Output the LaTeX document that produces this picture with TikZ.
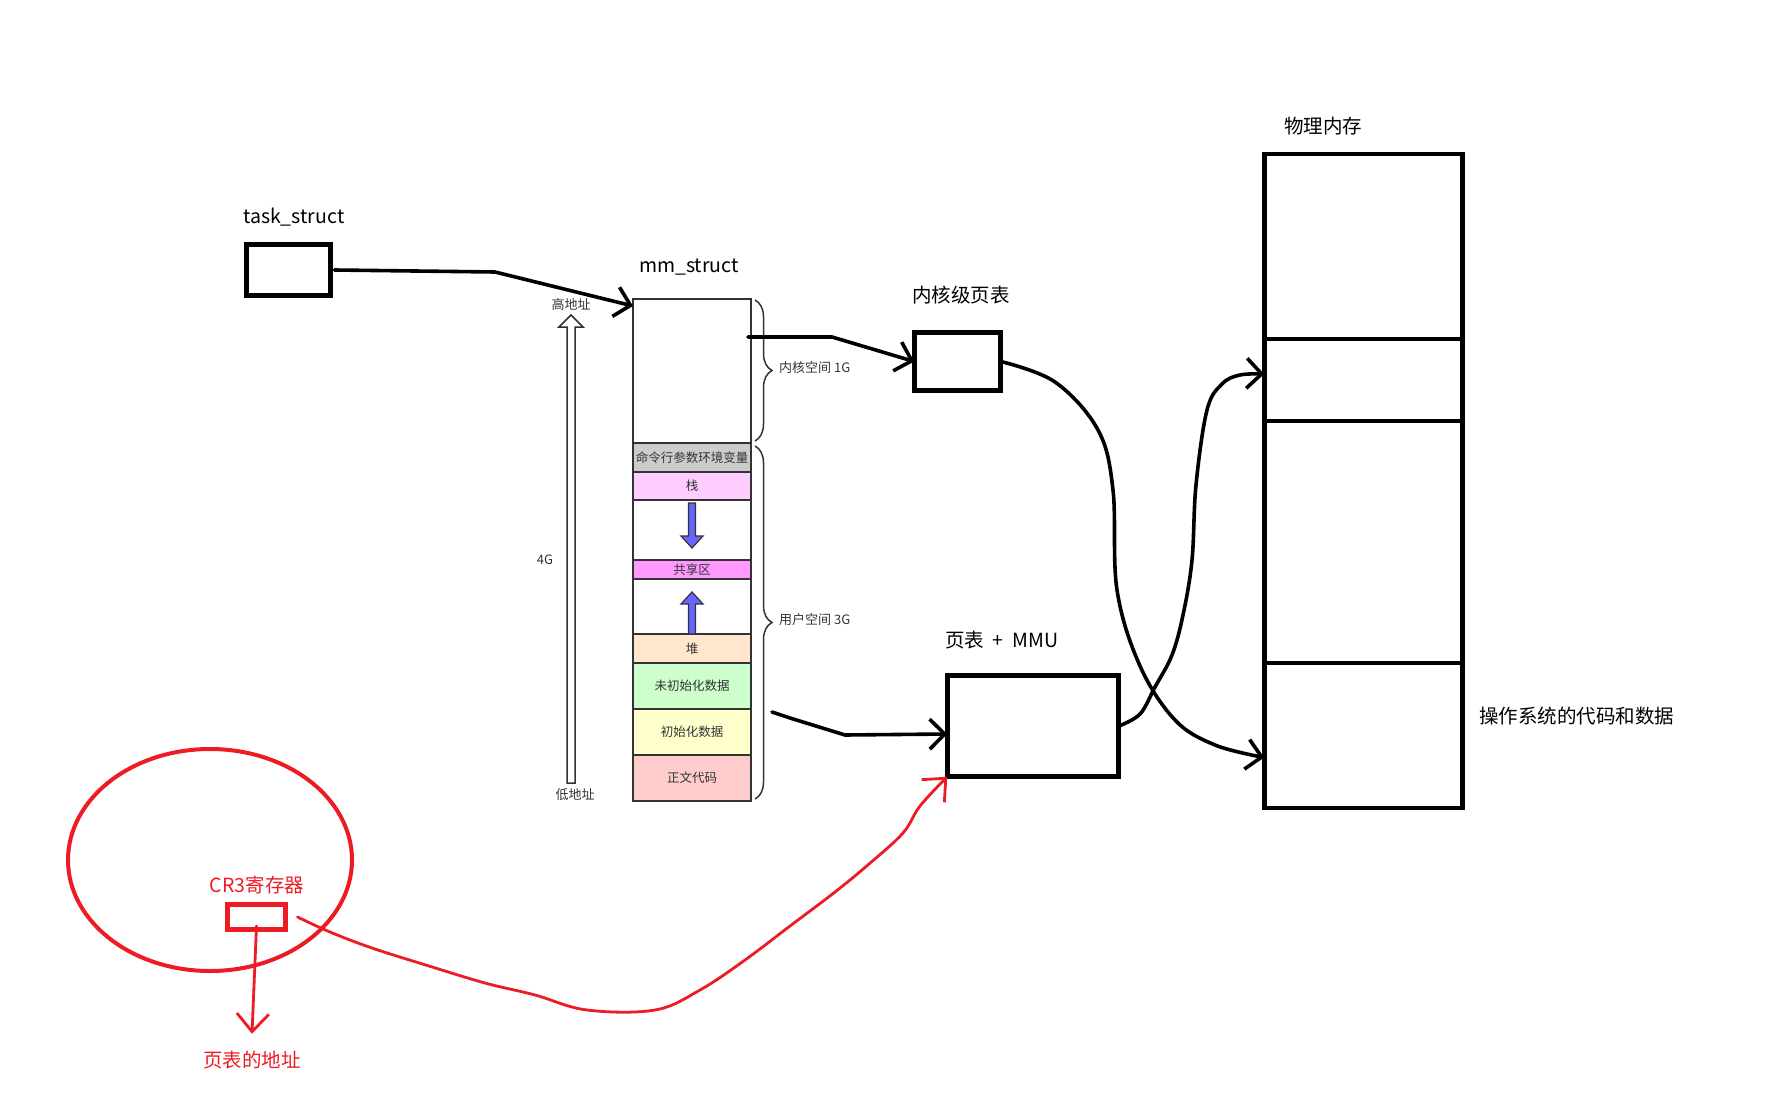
\documentclass[tikz,border=0pt]{standalone}
\usepackage{fontspec}
\setmainfont{Noto Sans CJK SC}
\usepackage{xcolor}
\usepackage{tikz}
\usetikzlibrary{arrows.meta,positioning,decorations.pathreplacing}
\definecolor{mspred}{HTML}{ED1C24}
\definecolor{cellline}{HTML}{333333}
\definecolor{cellgray}{HTML}{CCCCCC}
\definecolor{cellpink}{HTML}{FFCCFF}
\definecolor{cellmagenta}{HTML}{FF99FF}
\definecolor{cellpeach}{HTML}{FFE6CC}
\definecolor{cellgreen}{HTML}{CCFFCC}
\definecolor{cellyellow}{HTML}{FFFFCC}
\definecolor{cellrose}{HTML}{FFCCCC}
\definecolor{growblue}{HTML}{6666FF}

\begin{document}
\begin{tikzpicture}[x=1pt, y=-1pt,
  box/.style={draw, line width=4.8pt, inner sep=0pt, outer sep=0pt},
  cell/.style={draw=cellline, line width=1.5pt, minimum width=118pt, inner sep=0pt, outer sep=0pt, text=cellline, font=\fontsize{12.5}{14}\selectfont},
  tag/.style={inner sep=0pt, font=\fontsize{19.5}{22}\selectfont},
  memtxt/.style={inner sep=0pt, text=cellline, font=\fontsize{13}{15}\selectfont},
  inkarr/.style={line width=3.6pt, line cap=round, line join=round, -{Straight Barb[length=15pt, width=30pt]}},
  redarr/.style={draw=mspred, line width=2.8pt, line cap=round, line join=round, -{Straight Barb[length=18pt, width=32pt]}},
  memrange/.style={draw=cellline, line width=1.5pt, decorate, decoration={brace, amplitude=17pt}},
  growarr/.style={draw=cellline, line width=1.2pt, fill=growblue},
]
  \useasboundingbox (0,0) rectangle (1770,1094);

  % task_struct
  \node[box, minimum width=84pt, minimum height=51pt] (task) at (288.5,270) {};
  \node[tag, anchor=west] (tasktitle) at (243,217) {task\_struct};

  % mm_struct column
  \node[tag] (mmtitle) at (689,267) {mm\_struct};
  \node[cell, minimum height=144pt, anchor=north west] (kern) at (633,299) {};
  \node[cell, minimum height=29pt, fill=cellgray, below=0pt of kern] (args) {命令行参数环境变量};
  \node[cell, minimum height=28pt, fill=cellpink, below=0pt of args] (stack) {栈};
  \node[cell, minimum height=60pt, below=0pt of stack] (gapdown) {};
  \node[cell, minimum height=19pt, fill=cellmagenta, below=0pt of gapdown] (shared) {共享区};
  \node[cell, minimum height=55pt, below=0pt of shared] (gapup) {};
  \node[cell, minimum height=29pt, fill=cellpeach, below=0pt of gapup] (heap) {堆};
  \node[cell, minimum height=46pt, fill=cellgreen, below=0pt of heap] (bss) {未初始化数据};
  \node[cell, minimum height=46pt, fill=cellyellow, below=0pt of bss] (data) {初始化数据};
  \node[cell, minimum height=46pt, fill=cellrose, below=0pt of data] (code) {正文代码};

  \draw[growarr] (688.5,503) -- (695.5,503) -- (695.5,536) -- (703,536) -- (692,548) -- (681,536) -- (688.5,536) -- cycle;
  \draw[growarr] (688.5,634) -- (688.5,604) -- (681,604) -- (692,592) -- (703,604) -- (695.5,604) -- (695.5,634) -- cycle;

  % address arrow
  \draw[draw=cellline, line width=1.5pt, fill=white] (567,783) -- (567,327) -- (559,327) -- (571,315) -- (583,327) -- (575,327) -- (575,783) -- cycle;
  \node[memtxt] (hiaddr) at (571,305) {高地址};
  \node[memtxt] (loaddr) at (575,795) {低地址};
  \node[memtxt] (fourg) at (545,560) {4G};

  \draw[memrange] (755,300) -- (755,441);
  \node[memtxt, anchor=west] (kspace) at (779,368) {内核空间 1G};
  \draw[memrange] (755,446) -- (755,799);
  \node[memtxt, anchor=west] (uspace) at (779,620) {用户空间 3G};

  % page tables
  \node[box, minimum width=86.5pt, minimum height=58.5pt] (kpt) at (957.5,361.5) {};
  \node[tag, anchor=west] (kpttitle) at (912,295) {内核级页表};
  \node[box, minimum width=171.5pt, minimum height=101.5pt] (mmu) at (1033,726) {};
  \node[tag, anchor=west] (mmutitle) at (945,640) {页表\hspace{0.45em}+\hspace{0.45em}MMU};

  % physical memory
  \node[box, minimum width=198.5pt, minimum height=185pt, anchor=north] (phys1) at (1363.5,154) {};
  \node[box, minimum width=198.5pt, minimum height=82pt, below=0pt of phys1] (phys2) {};
  \node[box, minimum width=198.5pt, minimum height=242pt, below=0pt of phys2] (phys3) {};
  \node[box, minimum width=198.5pt, minimum height=145pt, below=0pt of phys3] (phys4) {};
  \node[tag] (phystitle) at (1323,126) {物理内存};
  \node[tag, anchor=west] (ostitle) at (1479,716) {操作系统的代码和数据};

  % CR3
  \draw[draw=mspred, line width=4pt] (210,860) ellipse [x radius=142pt, y radius=111pt];
  \node[box, draw=mspred, line width=5pt, minimum width=58pt, minimum height=25pt] (cr3) at (256.5,917) {};
  \node[tag, text=mspred] (cr3title) at (257,885) {CR3寄存器};
  \node[tag, text=mspred] (addr) at (252,1060) {页表的地址};

  \draw[inkarr] ([xshift=4pt]task.east) -- (495,272) -- ([yshift=-7pt]kern.north west);
  \draw[inkarr] ([xshift=-3pt,yshift=34pt]kern.east) -- (832,337) -- (kpt.west);
  \draw[inkarr] plot[smooth, tension=0.6] coordinates {(kpt.east) (1055,382) (1098,430) (1113,490) (1117,590) (1140,666) (1175,720) (1215,745) ([yshift=-22pt]phys4.west)};
  \draw[inkarr] plot[smooth, tension=0.6] coordinates {(mmu.east) (1140,714) (1155,687) (1172,655) (1183,615) (1192,560) (1196,485) (1207,410) (1222,384) (1240,375) ([yshift=6pt]phys2.west)};
  \draw[inkarr] ([xshift=21pt,yshift=20pt]data.east) -- (790,718) -- (845,735) -- ([yshift=-8pt]mmu.west);

  \draw[redarr] plot[smooth, tension=0.6] coordinates {([xshift=12pt]cr3.east) (330,932) (372,948) (429,966) (485,983) (535,995) (587,1010) (655,1010) (700,990) (745,960) (790,926) (835,892) (869,864) (903,833) (920,806) (mmu.south west)};
  \draw[redarr] ([yshift=-9pt]cr3.center) -- ([yshift=17pt]addr.north);
\end{tikzpicture}
\end{document}
